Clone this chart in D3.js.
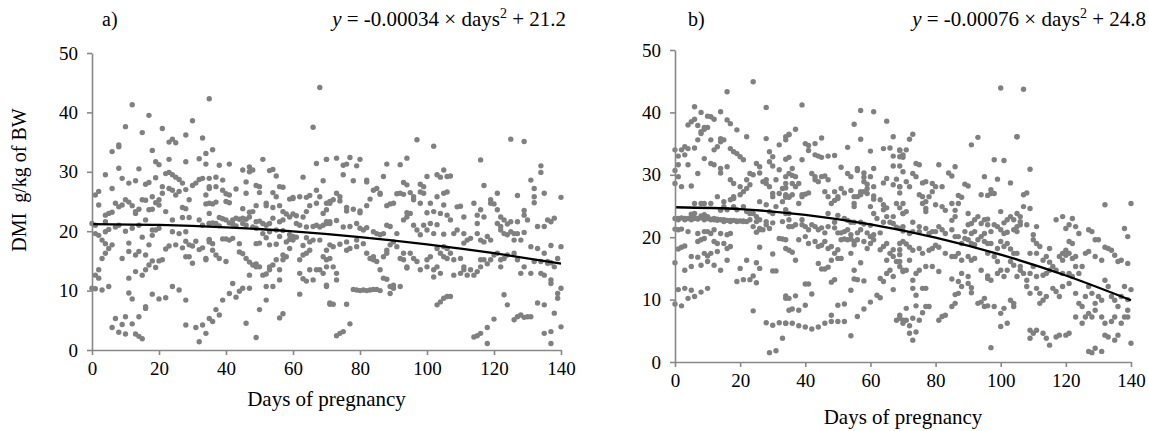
<!DOCTYPE html>
<html><head><meta charset="utf-8">
<script src="https://cdn.jsdelivr.net/npm/d3@7"></script>
<style>
html,body{margin:0;padding:0;background:#fff;}
svg{display:block;}
text{font-family:"Liberation Serif","Times New Roman",serif;fill:#000;}
</style></head>
<body><svg id="chart" width="1149" height="431"></svg>
<script>
const xTicks = [0,20,40,60,80,100,120,140];
const yTicks = [0,10,20,30,40,50];
const xTitle = "Days of pregnancy";
const yTitle = "DMI\u00A0\u00A0g/kg of BW";
const panelLabels = ["a)", "b)"];
const eqA = {coef:"-0.00034", icpt:"21.2"};
const eqB = {coef:"-0.00076", icpt:"24.8"};

// fitted curves [day, DMI]
const trendA = [[0,21.2],[20,21.06],[40,20.66],[60,19.98],[80,19.02],[100,17.8],[120,16.3],[140,14.54]];
const trendB = [[0,24.8],[20,24.5],[40,23.58],[60,22.06],[80,19.94],[100,17.2],[120,13.86],[140,9.9]];

// observations panel a [day, DMI]
const pointsA = [
[12,41.3],[17,39.5],[35,42.3],[10,37.6],[15,36.6],[21,37.3],[30,38.6],[28,36.2],[6,33.4],[8,34.5],[8,34.2],[18,33.6],[23,35],[24,35.5],[25,34.9],[33,35.7],[34,33.1],[4,29.5],[8,30.6],[14,30.5],[19,31.7],[20,31.2],[23,32.1],[28,31.7],[32,32.2],[6,27.2],[9,28.9],[11,28.1],[13,28.5],[16,27.9],[17,28.2],[19,29],[22,29.7],[23,29.9],[24,29.5],[25,29.1],[26,28.7],[27,28.1],[21,27.5],[23,27.2],[24,26.9],[25,26.1],[26,26.7],[28,27],[30,27.7],[31,28.1],[32,28.7],[33,28.9],[35,27.5],[34,26.1],[1,26.1],[2,26.7],[2,24.4],[4,22.7],[5,23],[6,23.2],[7,24.7],[8,24.1],[9,24.4],[10,25.3],[11,24.9],[12,24.3],[14,23.7],[15,25.3],[16,25.2],[18,25.8],[19,24.8],[20,25.3],[21,26.4],[20,24.4],[22,23.3],[24,21.9],[13,23.3],[13,23],[17,23.6],[18,23.7],[27,24],[28,23.8],[29,25.3],[29,22.3],[27,22.3],[32,21.9],[33,21],[34,24.6],[35,23],[35,21.3],[0,21.3],[1,21],[4,21.6],[5,20.3],[4,19.9],[7,20.7],[8,21],[10,20],[12,20.5],[14,21],[16,21.9],[18,20.2],[20,20.5],[24,19.9],[26,19.6],[28,19.9],[1,19.6],[2,19.3],[3,18.5],[4,17.9],[5,17.1],[4,16.3],[3,15.4],[6,17.7],[11,18],[14,16.6],[13,16],[15,19],[18,19.3],[19,20.2],[17,17.7],[16,16],[22,17],[23,17.5],[25,17.7],[27,17.2],[28,18.3],[29,17.7],[30,17.5],[31,18.3],[28,15.7],[29,15.7],[30,14.6],[32,16.9],[33,17.2],[34,15.4],[35,18.5],[9,15.4],[11,16.6],[2,13.5],[1,12.6],[2,12.1],[11,12.1],[13,13.2],[15,12.6],[16,13.5],[17,14.3],[18,15],[19,13.9],[20,15],[21,15.2],[0,10.4],[1,10.3],[3,10.1],[5,10.7],[11,9.6],[12,8.6],[18,9.4],[20,8.6],[22,8.8],[24,10.7],[26,10.1],[28,8.4],[16,7.3],[16,7],[7,5.3],[10,5.6],[14,5.6],[9,4.3],[6,3.8],[8,3],[10,2.7],[12,4.4],[13,2.7],[14,2.3],[15,1.9],[28,4.2],[31,3.8],[33,4.2],[34,2.8],[32,1.4],[35,5.3],
[68,44.2],[66,37.5],[36,33.7],[51,32.1],[34,31.3],[38,31.1],[41,31.3],[45,30.3],[47,30.8],[48,30.3],[47,30],[53,30.2],[54,30.4],[55,29.3],[63,29.1],[67,31.4],[70,32.1],[35,28.9],[37,29.1],[39,28.6],[46,28.3],[49,27.7],[50,27.5],[57,27.4],[56,27.5],[69,28.5],
[35,27.2],[37,27.5],[39,26.9],[40,26.3],[41,26.1],[43,27.1],[46,26.4],[50,26.5],[54,26.5],[55,25.8],[52,24.7],[52,24.3],
[35,24.7],[36,24.6],[37,24.9],[40,25],[41,24.8],[45,23.8],[47,23.2],[48,23.3],[49,24.3],[54,24],[56,24.3],[57,23.3],[58,22.9],[59,25.4],[60,25.7],[60,25.5],[62,25.8],[64,25.7],[65,26],[67,26.9],[68,25.8],[67,24.7],[65,24.3],[64,23.3],[63,22.4],[61,22.6],[60,22.9],[59,22.4],[57,21.9],[56,21.6],[54,22.2],[52,21],[53,21.3],[51,21.3],[50,21.7],[49,21.6],[47,22.4],[46,22],[45,22.2],[44,22],[43,22.2],[42,21.9],[41,21.4],[40,21.9],[38,22.3],[39,22.1],[36,21.4],[35,21.3],[37,21.3],[38,20.9],[42,21.2],[43,20.9],[45,21.3],[46,21],[48,20.7],[49,20.5],[51,19.6],[53,19.9],[55,20.2],[57,20.1],[59,19.4],[60,19.1],[61,21.3],[62,21],[64,20.7],[66,20.8],[67,21],[68,20.7],[69,21],[70,21.3],[71,21.6],[69,23],[70,23.6],[71,24.7],
[35,18.6],[35,18.2],[36,17.9],[39,18.7],[40,18.7],[41,18.5],[42,18.8],[44,17.9],[44,16.5],[45,16.2],[46,15.4],[47,14.8],[48,14.3],[49,14],[50,14],[49,14.5],[49,17.9],[50,18],[52,18.9],[53,17.7],[55,17.8],[56,19.1],[58,18.2],[57,16],[58,15.7],[57,15.2],[59,17.1],[59,18.6],[60,18.5],[61,19],[63,17.6],[64,18.9],[65,18.2],[66,18.5],[68,18.5],[65,16.8],[63,16],[62,15.2],[64,16.3],[69,15.7],[71,15.4],[70,14],[69,12.9],[68,13.5],[67,13.5],[65,13.5],[64,11.6],[63,12],[66,11.8],[62,12.9],[55,15.2],[54,14.3],[53,14],[56,13.5],[56,11.8],[54,10.7],[52,10.7],[51,12.6],[52,12.8],[53,13.5],[52,8.4],[47,12.6],[47,10.4],[45,10.4],[44,9.9],[43,8.9],[41,9.5],[39,8.4],[42,11.2],[40,14.9],[38,15.4],[37,16],[36,16.8],[34,15.2],[70,10.9],[50,6.8],[56,5.4],[57,6.1],[46,4.5],[49,2.1],[38,5.9],[37,6.8],[36,4.8],[62,9.4],[71,7.9],
[97,35.4],[102,34.3],[70,32.1],[73,32.3],[75,31.1],[76,31.3],[77,32.4],[80,32.1],[79,31],[94,32.3],[92,31.2],[88,31.3],
[75,29.5],[78,28.5],[82,28.6],[82,28.3],[87,29.2],[85,27.2],[84,26.9],[86,26.4],[94,27.8],[93,28.2],[100,29.2],[99,27.5],[98,27.9],[103,29.5],[104,29.1],[105,30.3],[106,29.2],
[70,24.7],[71,25],[72,25.3],[74,25.1],[74,25.8],[73,26.4],[76,24],[76,23.4],[78,23.7],[80,23.1],[80,23.4],[82,24.3],[83,25.4],[86,26.2],[88,24.3],[89,24.6],[90,24.7],[91,26.3],[92,26.4],[93,26.2],[95,26.5],[96,25.3],[96,25.8],[94,23.1],[95,23],[98,26.6],[99,26.4],[98,24.7],[101,24.7],[100,23.1],[102,23.3],[103,25.8],[105,24.4],[106,26.6],[104,23],
[70,21.6],[71,21.3],[73,21.8],[75,20.7],[77,20.8],[79,21.3],[80,20.5],[81,20.2],[82,20.6],[84,19.9],[85,19.6],[86,19.4],[87,19.6],[88,21],[89,20.8],[91,19.6],[93,21.9],[94,22.4],[96,21],[97,20.2],[98,19.4],[99,21],[100,20.2],[101,21.3],[102,19.6],[103,21.1],[105,19.5],[107,21.9],
[71,17.7],[72,17.4],[74,17.8],[76,18.2],[76,16.8],[77,17.1],[79,18.5],[79,17.4],[81,17.9],[82,16.3],[83,15.4],[84,15.2],[84,15.7],[85,14.9],[86,13.5],[87,15.7],[88,16.8],[88,16.3],[89,17.7],[90,18.2],[91,17.4],[93,16.3],[92,15.4],[93,15.2],[94,14],[94,13.8],[95,16.3],[96,15.4],[97,14.9],[98,13.5],[100,14],[100,15.2],[101,15.7],[102,13.5],[103,14],[104,12.9],[102,12.3],[104,16.3],[105,15.7],[106,15.4],[105,17.4],[103,17.1],
[70,16.8],[70,15.2],[72,14],[73,12.9],[70,10.7],[73,11.8],
[78,10.2],[79,10.1],[80,10],[81,10.1],[82,10],[83,10.1],[84,10.2],[85,10.2],[86,10],
[87,12.1],[88,11.9],[89,10.7],[90,10.9],[90,10.4],[89,9.5],[92,10.7],
[71,7.7],[72,7.7],[76,7.7],[103,7.6],[104,8.1],[105,8.7],[106,9],[74,2.8],[75,3.1],[77,4.4],[73,2.4],
[125,35.5],[129,35.1],[116,32],[134,31],[134,29.9],[131,28.6],[132,27.2],[132,24.8],[132,25.8],[107,29.3],[117,27.7],
[121,26.4],[119,25.3],[119,24.7],[120,24.6],[127,26],[129,23.5],[129,22.7],[140,25.7],[135,26.4],
[105,26.4],[106,22.7],[109,24.1],[110,24.2],[111,22.4],[114,24.7],[115,22.7],[115,21.3],[116,23.6],[117,22.4],[121,23.6],[122,22.4],[121,21.3],[123,21.9],[124,21.2],[125,21.6],[127,21.6],[130,21.9],[133,20.8],[135,20.8],[136,21.9],[138,22.2],[137,21.6],
[108,19.6],[109,20.2],[111,19.6],[112,18.5],[111,18],[113,18.8],[115,19.6],[116,18.5],[118,19.1],[117,18.2],[119,18.5],[122,20.8],[122,20.2],[123,19.6],[124,19.4],[125,19.9],[126,19.6],[126,18.5],[127,19.6],[128,18.5],[129,19.8],[131,17.4],[133,17.1],[135,16.3],[137,17.6],[140,17.4],[106,17.1],[107,16.3],[108,15.2],[110,15.4],[111,13.5],[111,14],[110,12.9],[108,12.6],[112,12.6],[113,13.5],[114,12.6],[115,13.2],[116,14],[116,15.2],[117,15.2],[118,14.5],[119,15.2],[120,16],[121,16.3],[122,15.2],[122,14],[123,15.4],[124,16],[126,16.3],[127,15.2],[128,12.9],[129,14],[131,12.9],[132,14.9],[134,14.9],[136,14.9],[136,14.6],[137,14.7],[138,14],[139,15.4],[134,12.9],[135,12.6],[137,11.8],[137,11.2],[140,10.4],[139,9.5],[139,8.7],
[107,9],[123,9.3],[124,7.6],[126,5.1],[127,5.6],[128,5.9],[129,5.5],[130,5.6],[131,5.6],[133,7.9],[135,7.6],[138,6.2],[120,5.2],[118,3.8],[116,2.8],[115,2.4],[114,2.2],[118,1.1],[135,2.8],[137,3.1],[140,3.9],[137,1.1]
];

// observations panel b [day, DMI]
const pointsB = [
[24,44.9],[16,43.3],[28,40.8],[6,40.9],[8,40],[11,39.3],[12,38.9],[14,40.1],[6,38.9],[5,38.5],[4,38],[10,39.4],[7,37.9],[9,37.6],[9,37.3],[8,36.6],[8,36.9],[10,37.6],[16,38.8],[17,38.2],[19,37.2],[22,36.1],[11,35.6],[15,35.6],[14,35.8],[14,35.3],[13,34.5],[12,34],[7,35.6],[3,34.5],[2,34],[0,34],[4,34.2],[6,34.3],[1,33],[3,33.2],[28,35.8],[29,33.7],[30,32.9],[32,34.8],[34,35.6],[35,36.4],[17,34.2],[18,33.7],[19,33.4],[20,32.9],[21,32.4],[9,32.6],[11,31.8],[12,31.6],[14,31],[16,31.3],[14,30.3],[1,31.6],[4,31.6],[0,30.7],[1,29.7],[0,28.6],[2,28.1],[5,28.2],[7,30.2],
[17,29.2],[18,28.6],[20,28.1],[21,27.3],[23,30.2],[24,30],[22,29.2],[25,31.8],[26,31.3],[26,30.3],[29,32.1],[30,31.4],[28,29.2],[28,28.6],[29,28.1],[27,28.9],[31,29.2],[32,30.8],[34,29.7],[35,30.2],[34,28.6],[33,27.8],[32,27],[30,27],[30,26.5],[23,28.4],[22,27.8],[20,26.8],[18,26.2],[17,26],[18,26.5],[15,25.7],[13,26.5],[11,25.4],[9,25.4],[8,25.4],[6,25.4],[5,23.7],[6,23.8],[8,23.4],[9,23.6],[10,23.3],[12,22.8],[14,24.3],[15,24.9],[16,24.4],[18,24.9],[19,24.4],[21,24.9],[22,24.1],[23,23.8],[24,23.8],[25,23.3],[26,25.7],[28,25.2],[29,24.1],[30,23.8],[31,24.9],[33,25.7],[34,26.8],[35,26.5],[34,24.4],[35,23.8],
[0,23],[1,23],[2,23.1],[3,23],[4,23],[5,23.1],[6,23],[7,23],[8,23.1],[9,23],[10,23],[11,22.9],[12,23],[13,22.9],[14,22.8],[15,22.8],[16,22.7],[17,22.7],[18,22.7],[19,22.6],[20,22.6],[21,22.6],[22,22.5],
[1,22.8],[3,22.8],[5,22.8],[7,22.9],[9,22.8],[11,22.8],[13,22.7],[15,22.5],[17,22.5],[19,22.5],[21,22.5],[23,22.8],[25,22.5],[26,22.8],[28,22.5],[30,22.3],[33,22.5],[35,21.7],[24,21.7],[26,21.4],[27,21.2],[28,22],[29,21.4],[25,20.8],
[0,21.3],[1,21.2],[2,21.3],[4,20.9],[7,20.6],[9,20.9],[10,20.9],[12,21.2],[14,20.6],[16,20.4],[17,20.6],[3,18.6],[2,18.4],[1,18.1],[7,19.3],[8,19.6],[9,19.8],[11,20.6],[12,19.3],[13,19],[9,17.4],[10,17],[11,17.4],[13,17.7],[15,19],[16,18.2],[17,18.5],[0,15.9],[5,16.9],[7,16.8],[5,15.3],[3,14.7],[8,15.5],[10,16.1],[12,15.5],[14,14.7],[16,16.3],[26,21.2],[26,18.4],[25,15.9],[26,15],[24,13.8],[20,15],[22,16.3],[19,12.9],[21,13.2],[23,13.2],[25,12.7],[30,14.6],[31,14.6],[30,17.3],[32,19.8],[33,19.7],[34,18.2],[35,21.7],
[1,11.6],[3,11.8],[5,11.5],[0,9.3],[2,9],[4,10.2],[6,10.5],[8,11.2],[10,11.8],[24,8.2],[28,6.3],[30,5.9],[32,6.3],[34,6.2],[34,10.2],[33,3.8],[29,1.5],[31,1.8],[35,8.3],
[39,41.2],[57,40.3],[61,40.1],[55,38.1],[65,38.6],[57,35.7],[67,36.1],[66,34.3],[64,34.2],[60,33.8],[53,34.4],
[37,37.3],[35,36.5],[34,36.1],[35,32.8],[34,32.5],[39,32.4],[40,35],[41,34.7],[43,35],[41,33.9],[43,33.2],[45,35.9],[44,33],[45,32.8],[47,33],[49,33.1],[36,31],[36,29.9],[37,29.7],[38,28.6],[36,28.6],[37,28.1],[42,30.2],[43,29.7],[43,29.2],[44,28.9],[45,29.7],[46,29.8],[47,29.2],[40,26.9],[41,27.1],[39,26.8],[39,26.5],[38,25.4],[36,26.8],[35,26.4],[34,27.9],[34,26.4],
[51,31.2],[53,30.2],[54,29.7],[56,31],[56,30.7],[58,30.3],[58,29.6],[60,29.7],[58,28.9],[61,31],[59,28.5],[61,28.1],[64,28.7],[65,29.4],[67,28.4],[68,29.3],[69,34],[70,33.2],[69,32.9],[67,33],[69,31.4],[67,31.4],[70,30.5],[69,28.1],
[46,27.3],[47,26.5],[49,27.3],[48,25.4],[49,25.9],[50,26.5],[50,26.2],[51,27.8],[52,27.1],[54,27.5],[55,26.5],[56,26.5],[57,27.3],[58,27.3],[59,27],[57,26.8],[59,27.8],[61,26.6],[55,25.4],[55,24.9],[60,24.9],[61,26.1],[63,26],[64,25.2],[65,24.7],[64,24.4],[65,23.3],[67,23.3],[68,25.4],[69,24.7],[70,25.4],[70,23.8],[47,23.8],[49,22.4],[50,23.5],[52,23],[53,22.7],[54,22.4],[55,22.4],[57,22.4],[58,22.1],[60,21.9],[61,23.8],[62,23],[64,22.4],[66,22.4],[67,22.2],[68,21.6],[69,21.4],[70,21],
[34,23.8],[35,22.8],[36,21.7],[37,22],[39,22],[39,22.8],[40,21.7],[41,21.2],[42,22],[43,21.7],[44,21.2],[45,21.5],[46,20.7],[47,21.7],[49,21.5],[50,20.7],[51,20.7],[52,20.9],[53,21.2],[54,20.4],[56,20.7],[57,21.2],[59,20.7],[60,20.1],[61,20.4],[63,20.7],
[38,19.6],[40,20.1],[41,19],[43,19.3],[44,18.5],[45,18.7],[46,19.3],[47,18.2],[48,18.5],[49,17.4],[50,18],[51,16.6],[51,19.6],[52,19.7],[53,19.6],[54,19.7],[55,19.3],[55,18.8],[56,19.6],[58,19.3],[59,18.2],[60,19],[61,19.6],[63,18],[64,18.5],[65,19],[66,17.4],[67,18],[67,16.9],[69,18],[69,17.2],[68,16.1],[69,15.3],[70,14.7],[65,16.3],[66,14.7],[65,14.2],[63,13.4],[64,12.9],[67,13.7],[35,17.9],[36,17.6],[37,16.3],[34,19.6],[44,15.8],[45,14.9],[46,14.9],[47,15.2],[48,16.3],[50,16.6],[54,17.4],[55,14.7],[56,13.2],[55,13.3],[57,15.9],[58,13],[54,11.5],[49,13.2],[48,12.8],
[40,12.5],[41,12.5],[42,10.9],[37,10.6],[35,10.2],[34,10.6],[36,8.5],[38,8.3],[40,9.1],[50,9.1],[52,9.3],[48,7.5],[46,6.2],[44,5.6],[42,5.3],[40,5.6],[38,5.8],[36,6.2],[34,6.2],[48,6.5],[50,6.5],[52,6.5],[56,7.3],[58,8.5],[60,9.6],[62,10.7],[63,10.3],[54,4.2],[68,6.7],[69,7.5],[70,6.7],[67,11.6],
[100,43.9],[93,36],[91,34.8],[105,36.1],[73,36.5],[72,35.7],[98,32.4],[101,32.3],
[69,33.9],[71,34],[70,32.8],[74,31.8],[75,31.6],[81,31.6],[84,30.3],[85,29.8],[86,31.3],[89,28.5],[90,28.2],[95,29.7],[99,29.3],[103,28.7],[73,30.2],[74,29.7],[71,28.9],[69,28.1],[69,27.1],[72,28.1],[76,28.7],[77,28.9],[79,28.6],[80,28.1],[82,28.1],[79,27.3],[80,25.2],[78,26.5],[76,26.5],[77,25.7],[75,26.8],[76,25.4],[77,24.6],[77,24.1],[71,24.1],[70,23.8],[73,22.4],
[82,24.9],[83,24.3],[85,25.4],[87,26.7],[88,26.4],[87,25.4],[86,24.3],[86,23.3],[85,22.7],[90,23.8],[91,22.2],[92,22.8],[93,23.3],[94,22.2],[95,22.8],[96,22.9],[96,22],[94,26.8],[96,26.7],[97,27],[98,27],[97,27.6],[100,24.1],[101,22.3],[102,22.8],[103,23.3],[104,22.8],[105,23.8],[106,22],[101,20.6],[102,20.8],[104,21.2],[100,21.2],[98,22],[99,21.7],[97,20.9],[95,20.6],[94,20.1],[92,20.9],[91,20.6],[90,22],[89,20.9],
[70,21.7],[72,20.6],[73,20.9],[75,21.7],[75,20.9],[77,21.4],[78,20.6],[79,20.9],[80,20.9],[81,21.7],[82,21.2],[83,20.6],[85,21.2],[86,20.1],[87,20.1],[88,19],[89,19.8],[90,19.6],[91,19],[92,18.8],[93,19.6],[95,19.3],[96,19],[97,19],[99,18.2],[100,19.3],[101,18.5],[102,19],[103,18.1],[104,17.4],[105,17.4],[69,19],[70,19.3],[71,18.9],[73,17.9],[72,18.4],[75,18.2],[76,17.4],[78,17.9],[79,18.2],[80,18.7],[81,18.4],[83,17.4],[85,16.9],[86,16.9],[87,17.4],[88,16.3],[90,16.9],[91,16.3],[92,16.6],[94,14.7],[96,17.4],[98,16.9],[99,16.1],[100,14.7],[99,14.2],[101,13.7],[102,14.7],[103,16.1],[104,15.5],[106,14.7],[96,13.8],[96,13.4],[97,13.1],[88,14.2],[90,13.7],[90,12.6],[87,12.9],[88,12.1],[87,11],[86,10.8],[85,13.3],[81,14.5],[79,15.3],[77,15.3],[75,14.7],[74,14.2],[73,13.1],[70,14.5],[71,14.7],[72,16.3],[69,16.1],[74,10.7],[76,11.8],[77,11.8],[73,11.8],[78,8.9],[77,8.9],[76,7.9],[74,9],[71,8.6],[69,7],[70,6.2],[71,6.7],[73,7],[72,5.8],[75,6.7],[72,4.6],[73,3.5],[74,4.8],[81,6.7],[82,7.3],[83,7.5],[85,8.9],[86,9.4],[91,11.9],[91,11.1],[93,9.4],[95,8.9],[96,9],[98,8.9],[100,7.8],[101,8.6],[103,9.9],[104,9.4],[104,8.9],[100,5.7],[102,6.2],[97,2.3],[94,9.6],[95,10.2],
[107,43.7],[105,36.1],[109,30.9],
[107,26.8],[108,27.1],[109,24.6],[107,24.9],[106,23.3],[106,22.5],[105,21.7],[105,20.9],[108,22],[111,21.7],[110,20.4],[110,19.6],[111,19],[112,18.5],[111,17.4],[109,17.4],[113,16.3],[114,16.9],[115,18.2],[115,16],[117,22.8],[119,23.3],[120,21.4],[121,22],[122,23],[123,21.7],[124,20.6],[127,21.2],[128,20.9],[129,19.6],[130,19.6],[132,25.2],[132,18.4],[133,18.2],[134,17.9],[135,17.1],[136,16.1],[138,21.4],[139,20.1],[140,25.4],[137,16.3],[139,15.8],[121,19.3],[122,19],[120,17.9],[119,17.4],[118,16.9],[119,16.3],[120,17.1],[121,17.4],[122,16.6],[123,16.9],[126,17.4],[127,17.7],[129,16.9],[131,16.3],[123,15.3],[125,15.3],[124,14.2],[122,13.7],[121,14.2],[119,14.2],[117,14.7],[116,15.3],[115,14.7],[114,14.2],[113,13.9],[111,13.7],[110,15.3],[109,14.2],[108,13.1],[107,14.2],[106,15.3],[105,13.7],
[108,12.1],[109,11],[111,11.8],[112,11],[112,9.4],[113,9.9],[114,10.5],[116,11.8],[117,11.3],[118,10.5],[119,12.1],[121,12.6],[123,11],[124,9.4],[125,8.9],[126,10.5],[127,12.1],[128,11],[129,9.4],[130,10.5],[131,9.9],[132,13.1],[133,12.1],[134,10.5],[135,9.9],[136,8.9],[137,10.5],[138,12.1],[140,11.6],[139,8.3],[135,7.2],[134,6.5],[132,6.2],[131,7.2],[129,8.3],[128,7.2],[127,7.8],[126,7.2],[125,6.2],[123,7.2],[121,4.6],[120,4.3],[118,4.3],[117,4],[114,3.8],[115,2.7],[113,4.6],[111,5.1],[110,4.6],[109,5.1],[109,3.8],[127,1.7],[128,1.5],[129,2.2],[131,1.7],[132,4.3],[133,4],[135,3.5],[136,4.3],[137,6.2],[138,7.2],[140,3],[139,10],[139,7.2]
];

const svg = d3.select("#chart");
svg.append("rect").attr("width",1149).attr("height",431).attr("fill","#fff");

const axisColor = "#888888";
const dotColor = "#808080";
const serif = '"Liberation Serif","Times New Roman",serif';

function panel(cfg){
  const x = d3.scaleLinear().domain([0,140]).range([cfg.x0, cfg.x1]);
  const y = d3.scaleLinear().domain([0,50]).range([cfg.y0, cfg.y1]);
  const g = svg.append("g");

  g.append("g").selectAll("circle").data(cfg.points).join("circle")
    .attr("cx", d=>x(d[0])).attr("cy", d=>y(d[1])).attr("r", 2.7)
    .attr("fill", dotColor);

  g.append("path").datum(cfg.trend)
    .attr("d", d3.line().x(d=>x(d[0])).y(d=>y(d[1])).curve(d3.curveNatural))
    .attr("fill","none").attr("stroke","#000").attr("stroke-width",2.3);

  const xa = g.append("g").attr("transform",`translate(0,${cfg.y0})`)
    .call(d3.axisBottom(x).tickValues(xTicks).tickSize(5).tickSizeOuter(0).tickPadding(7));
  const ya = g.append("g").attr("transform",`translate(${cfg.x0},0)`)
    .call(d3.axisLeft(y).tickValues(yTicks).tickSize(5).tickSizeOuter(0).tickPadding(9));
  [xa,ya].forEach(a=>{
    a.attr("font-size",null).attr("font-family",null);
    a.selectAll("path,line").attr("stroke",axisColor).attr("stroke-width",1.6);
    a.selectAll("text").style("font-family",serif).style("font-size","19px").attr("fill","#000");
  });

  g.append("text").attr("x", cfg.lblX).attr("y", cfg.lblY).style("font-family",serif).style("font-size","20px").text(cfg.label);

  const eq = g.append("text").attr("x", cfg.eqX).attr("y", cfg.lblY).attr("text-anchor","end")
    .style("font-family",serif).style("font-size","21px");
  eq.append("tspan").attr("font-style","italic").text("y");
  eq.append("tspan").text(` = ${cfg.eq.coef} × days`);
  eq.append("tspan").style("font-size","14px").attr("dy",-8).text("2");
  eq.append("tspan").attr("dy",8).text(` + ${cfg.eq.icpt}`);

  g.append("text").attr("x",(cfg.x0+cfg.x1)/2).attr("y",cfg.titleY)
    .attr("text-anchor","middle").style("font-family",serif).style("font-size","21px").text(xTitle);
}

panel({x0:92,x1:561,y0:350,y1:53,points:pointsA,trend:trendA,label:panelLabels[0],lblX:102,lblY:26,eqX:566,eq:eqA,titleY:406});
panel({x0:675,x1:1131,y0:362,y1:50,points:pointsB,trend:trendB,label:panelLabels[1],lblX:688,lblY:26,eqX:1146,eq:eqB,titleY:424});

svg.append("text").attr("transform","translate(26,180) rotate(-90)")
  .attr("text-anchor","middle").style("font-family",serif).style("font-size","20px").text(yTitle);
</script></body></html>
